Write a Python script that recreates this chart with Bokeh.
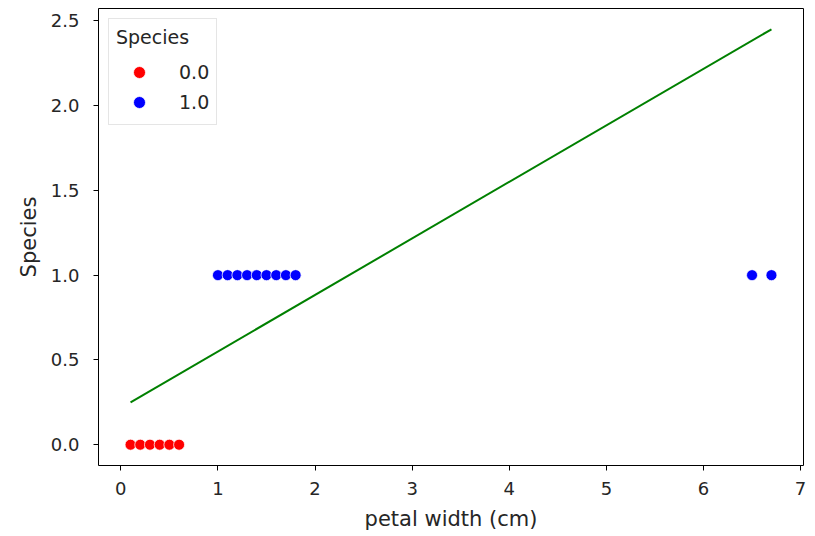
from bokeh.plotting import figure
from bokeh.models import Range1d, FixedTicker, Legend, LegendItem
from bokeh.embed import file_html
from bokeh.resources import INLINE

# data
x_class0 = [0.1, 0.2, 0.3, 0.4, 0.5, 0.6]
y_class0 = [0.0] * 6
x_class1 = [1.0, 1.1, 1.2, 1.3, 1.4, 1.5, 1.6, 1.7, 1.8, 6.5, 6.7]
y_class1 = [1.0] * 11
x_line = [0.1, 6.7]
y_line = [0.25, 2.45]
x_ticks = [0, 1, 2, 3, 4, 5, 6, 7]
y_ticks = [0.0, 0.5, 1.0, 1.5, 2.0, 2.5]
legend_labels = ["0.0", "1.0"]

FONT = "DejaVu Sans"
TXT = "#262626"

p = figure(width=815, height=536, output_backend="svg", toolbar_location=None,
           x_range=Range1d(-0.23, 7.03), y_range=Range1d(-0.1225, 2.5725),
           min_border_left=98, min_border_right=12, min_border_top=8, min_border_bottom=71)
p.grid.visible = False
p.outline_line_color = "black"
p.outline_line_width = 1
p.background_fill_color = "white"
p.border_fill_color = "white"

r_line = p.line(x_line, y_line, line_color="green", line_width=2)
r0 = p.scatter(x_class0, y_class0, size=11, fill_color="red", line_color="white", line_width=0.75)
r1 = p.scatter(x_class1, y_class1, size=11, fill_color="blue", line_color="white", line_width=0.75)

p.xaxis.ticker = FixedTicker(ticks=x_ticks)
p.yaxis.ticker = FixedTicker(ticks=y_ticks)
p.yaxis.major_label_overrides = {v: f"{v:.1f}" for v in y_ticks}
p.xaxis.axis_label = "petal width (cm)"
p.yaxis.axis_label = "Species"
for ax in (p.xaxis, p.yaxis):
    ax.axis_line_color = None
    ax.minor_tick_line_color = None
    ax.major_tick_line_color = "black"
    ax.major_tick_in = 0
    ax.major_tick_out = 5
    ax.major_label_text_font = FONT
    ax.major_label_text_font_size = "18px"
    ax.major_label_text_color = TXT
    ax.axis_label_text_font = FONT
    ax.axis_label_text_font_size = "21px"
    ax.axis_label_text_font_style = "normal"
    ax.axis_label_text_color = TXT
p.xaxis.major_label_standoff = 11
p.yaxis.major_label_standoff = 14
p.xaxis.axis_label_standoff = 9
p.yaxis.axis_label_standoff = 7

legend = Legend(items=[LegendItem(label=legend_labels[0], renderers=[r0]),
                       LegendItem(label=legend_labels[1], renderers=[r1])],
                location="top_left", title="Species")
legend.title_text_font = FONT
legend.title_text_font_size = "19px"
legend.title_text_font_style = "normal"
legend.title_text_color = TXT
legend.label_text_font = FONT
legend.label_text_font_size = "19px"
legend.label_text_color = TXT
legend.border_line_color = "#cccccc"
legend.border_line_width = 1
legend.margin = 10
legend.padding = 7
legend.spacing = 0
legend.glyph_width = 46
legend.glyph_height = 30
legend.label_height = 30
legend.label_standoff = 17
legend.title_standoff = 9
p.add_layout(legend)

open("out.html", "w").write(file_html(p, INLINE))
